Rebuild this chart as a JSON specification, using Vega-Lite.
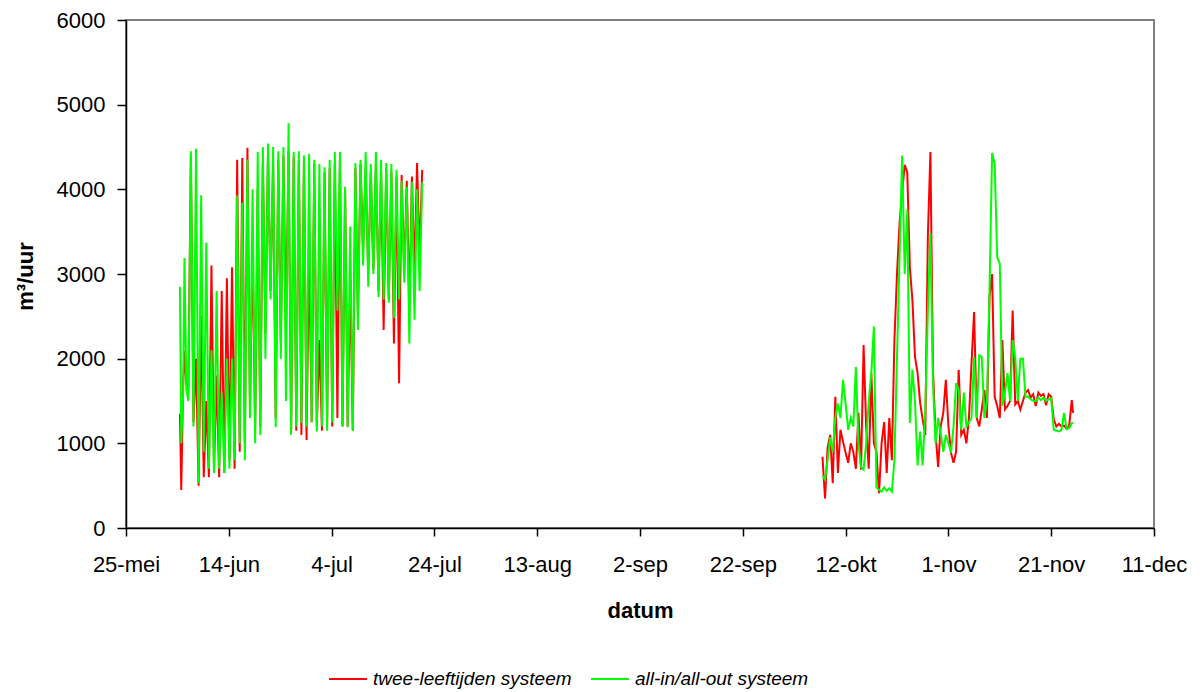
{
  "$schema": "https://vega.github.io/schema/vega-lite/v6.json",
  "width": 1028,
  "height": 508,
  "autosize": {"type": "none"},
  "padding": {"left": 126, "top": 20, "right": 49, "bottom": 164},
  "background": "white",
  "config": {
    "font": "Liberation Sans",
    "view": {"stroke": "#808080", "strokeWidth": 2},
    "axis": {"grid": false, "domainColor": "black", "domainWidth": 1.5, "tickColor": "black", "tickWidth": 1.5, "labelColor": "black", "titleColor": "black", "labelFont": "Liberation Sans", "titleFont": "Liberation Sans"}
  },
  "data": {"values": [
    {"t":"2007-06-04T12:00:00Z","p":1,"twee-leeftijden systeem":1350,"all-in/all-out systeem":2850},
    {"t":"2007-06-04T18:00:00Z","p":1,"twee-leeftijden systeem":450,"all-in/all-out systeem":1000},
    {"t":"2007-06-05T03:00:00Z","p":1,"twee-leeftijden systeem":1700,"all-in/all-out systeem":1600},
    {"t":"2007-06-05T09:00:00Z","p":1,"twee-leeftijden systeem":2100,"all-in/all-out systeem":3190},
    {"t":"2007-06-05T18:00:00Z","p":1,"twee-leeftijden systeem":1700,"all-in/all-out systeem":1630},
    {"t":"2007-06-06T03:00:00Z","p":1,"twee-leeftijden systeem":1600,"all-in/all-out systeem":1500},
    {"t":"2007-06-06T15:00:00Z","p":1,"twee-leeftijden systeem":4400,"all-in/all-out systeem":4450},
    {"t":"2007-06-07T03:00:00Z","p":1,"twee-leeftijden systeem":1250,"all-in/all-out systeem":1200},
    {"t":"2007-06-07T15:00:00Z","p":1,"twee-leeftijden systeem":2000,"all-in/all-out systeem":4480},
    {"t":"2007-06-08T03:00:00Z","p":1,"twee-leeftijden systeem":500,"all-in/all-out systeem":530},
    {"t":"2007-06-08T15:00:00Z","p":1,"twee-leeftijden systeem":2500,"all-in/all-out systeem":3930},
    {"t":"2007-06-09T03:00:00Z","p":1,"twee-leeftijden systeem":600,"all-in/all-out systeem":900},
    {"t":"2007-06-09T15:00:00Z","p":1,"twee-leeftijden systeem":1500,"all-in/all-out systeem":3370},
    {"t":"2007-06-10T03:00:00Z","p":1,"twee-leeftijden systeem":600,"all-in/all-out systeem":700},
    {"t":"2007-06-10T15:00:00Z","p":1,"twee-leeftijden systeem":3100,"all-in/all-out systeem":2100},
    {"t":"2007-06-11T03:00:00Z","p":1,"twee-leeftijden systeem":700,"all-in/all-out systeem":650},
    {"t":"2007-06-11T15:00:00Z","p":1,"twee-leeftijden systeem":1800,"all-in/all-out systeem":2800},
    {"t":"2007-06-12T03:00:00Z","p":1,"twee-leeftijden systeem":600,"all-in/all-out systeem":700},
    {"t":"2007-06-12T15:00:00Z","p":1,"twee-leeftijden systeem":2800,"all-in/all-out systeem":1600},
    {"t":"2007-06-13T03:00:00Z","p":1,"twee-leeftijden systeem":650,"all-in/all-out systeem":650},
    {"t":"2007-06-13T15:00:00Z","p":1,"twee-leeftijden systeem":2950,"all-in/all-out systeem":2000},
    {"t":"2007-06-14T03:00:00Z","p":1,"twee-leeftijden systeem":800,"all-in/all-out systeem":700},
    {"t":"2007-06-14T15:00:00Z","p":1,"twee-leeftijden systeem":3080,"all-in/all-out systeem":2000},
    {"t":"2007-06-15T03:00:00Z","p":1,"twee-leeftijden systeem":700,"all-in/all-out systeem":800},
    {"t":"2007-06-15T15:00:00Z","p":1,"twee-leeftijden systeem":4350,"all-in/all-out systeem":3930},
    {"t":"2007-06-16T03:00:00Z","p":1,"twee-leeftijden systeem":900,"all-in/all-out systeem":1000},
    {"t":"2007-06-16T15:00:00Z","p":1,"twee-leeftijden systeem":4370,"all-in/all-out systeem":3840},
    {"t":"2007-06-17T03:00:00Z","p":1,"twee-leeftijden systeem":1000,"all-in/all-out systeem":800},
    {"t":"2007-06-17T15:00:00Z","p":1,"twee-leeftijden systeem":4490,"all-in/all-out systeem":4350},
    {"t":"2007-06-18T03:00:00Z","p":1,"twee-leeftijden systeem":1400,"all-in/all-out systeem":1300},
    {"t":"2007-06-18T15:00:00Z","p":1,"twee-leeftijden systeem":3370,"all-in/all-out systeem":4000},
    {"t":"2007-06-19T03:00:00Z","p":1,"twee-leeftijden systeem":1160,"all-in/all-out systeem":1000},
    {"t":"2007-06-19T15:00:00Z","p":1,"twee-leeftijden systeem":4000,"all-in/all-out systeem":4440},
    {"t":"2007-06-20T03:00:00Z","p":1,"twee-leeftijden systeem":1200,"all-in/all-out systeem":1100},
    {"t":"2007-06-20T15:00:00Z","p":1,"twee-leeftijden systeem":4300,"all-in/all-out systeem":4500},
    {"t":"2007-06-21T03:00:00Z","p":1,"twee-leeftijden systeem":2300,"all-in/all-out systeem":2000},
    {"t":"2007-06-21T15:00:00Z","p":1,"twee-leeftijden systeem":4400,"all-in/all-out systeem":4540},
    {"t":"2007-06-22T03:00:00Z","p":1,"twee-leeftijden systeem":2800,"all-in/all-out systeem":2700},
    {"t":"2007-06-22T15:00:00Z","p":1,"twee-leeftijden systeem":4300,"all-in/all-out systeem":4500},
    {"t":"2007-06-23T03:00:00Z","p":1,"twee-leeftijden systeem":1300,"all-in/all-out systeem":1190},
    {"t":"2007-06-23T15:00:00Z","p":1,"twee-leeftijden systeem":4350,"all-in/all-out systeem":4450},
    {"t":"2007-06-24T03:00:00Z","p":1,"twee-leeftijden systeem":2200,"all-in/all-out systeem":2000},
    {"t":"2007-06-24T15:00:00Z","p":1,"twee-leeftijden systeem":4400,"all-in/all-out systeem":4500},
    {"t":"2007-06-25T03:00:00Z","p":1,"twee-leeftijden systeem":2370,"all-in/all-out systeem":1500},
    {"t":"2007-06-25T15:00:00Z","p":1,"twee-leeftijden systeem":4450,"all-in/all-out systeem":4780},
    {"t":"2007-06-26T03:00:00Z","p":1,"twee-leeftijden systeem":1120,"all-in/all-out systeem":1100},
    {"t":"2007-06-26T15:00:00Z","p":1,"twee-leeftijden systeem":4380,"all-in/all-out systeem":4440},
    {"t":"2007-06-27T03:00:00Z","p":1,"twee-leeftijden systeem":1150,"all-in/all-out systeem":1200},
    {"t":"2007-06-27T15:00:00Z","p":1,"twee-leeftijden systeem":4350,"all-in/all-out systeem":4450},
    {"t":"2007-06-28T03:00:00Z","p":1,"twee-leeftijden systeem":1100,"all-in/all-out systeem":1240},
    {"t":"2007-06-28T15:00:00Z","p":1,"twee-leeftijden systeem":4380,"all-in/all-out systeem":4400},
    {"t":"2007-06-29T03:00:00Z","p":1,"twee-leeftijden systeem":1040,"all-in/all-out systeem":1200},
    {"t":"2007-06-29T15:00:00Z","p":1,"twee-leeftijden systeem":3250,"all-in/all-out systeem":4420},
    {"t":"2007-06-30T03:00:00Z","p":1,"twee-leeftijden systeem":1250,"all-in/all-out systeem":1250},
    {"t":"2007-06-30T15:00:00Z","p":1,"twee-leeftijden systeem":4300,"all-in/all-out systeem":4350},
    {"t":"2007-07-01T03:00:00Z","p":1,"twee-leeftijden systeem":1200,"all-in/all-out systeem":1140},
    {"t":"2007-07-01T15:00:00Z","p":1,"twee-leeftijden systeem":2220,"all-in/all-out systeem":4300},
    {"t":"2007-07-02T03:00:00Z","p":1,"twee-leeftijden systeem":1150,"all-in/all-out systeem":1200},
    {"t":"2007-07-02T15:00:00Z","p":1,"twee-leeftijden systeem":4200,"all-in/all-out systeem":4260},
    {"t":"2007-07-03T03:00:00Z","p":1,"twee-leeftijden systeem":1200,"all-in/all-out systeem":1150},
    {"t":"2007-07-03T15:00:00Z","p":1,"twee-leeftijden systeem":4250,"all-in/all-out systeem":4350},
    {"t":"2007-07-04T03:00:00Z","p":1,"twee-leeftijden systeem":1200,"all-in/all-out systeem":1250},
    {"t":"2007-07-04T15:00:00Z","p":1,"twee-leeftijden systeem":4300,"all-in/all-out systeem":4440},
    {"t":"2007-07-05T03:00:00Z","p":1,"twee-leeftijden systeem":1300,"all-in/all-out systeem":2570},
    {"t":"2007-07-05T15:00:00Z","p":1,"twee-leeftijden systeem":4350,"all-in/all-out systeem":4440},
    {"t":"2007-07-06T03:00:00Z","p":1,"twee-leeftijden systeem":1200,"all-in/all-out systeem":1200},
    {"t":"2007-07-06T15:00:00Z","p":1,"twee-leeftijden systeem":4000,"all-in/all-out systeem":4030},
    {"t":"2007-07-07T03:00:00Z","p":1,"twee-leeftijden systeem":1200,"all-in/all-out systeem":1190},
    {"t":"2007-07-07T15:00:00Z","p":1,"twee-leeftijden systeem":2930,"all-in/all-out systeem":3560},
    {"t":"2007-07-08T03:00:00Z","p":1,"twee-leeftijden systeem":1150,"all-in/all-out systeem":1150},
    {"t":"2007-07-08T15:00:00Z","p":1,"twee-leeftijden systeem":4250,"all-in/all-out systeem":4310},
    {"t":"2007-07-09T03:00:00Z","p":1,"twee-leeftijden systeem":2500,"all-in/all-out systeem":2340},
    {"t":"2007-07-09T15:00:00Z","p":1,"twee-leeftijden systeem":4300,"all-in/all-out systeem":4350},
    {"t":"2007-07-10T03:00:00Z","p":1,"twee-leeftijden systeem":3280,"all-in/all-out systeem":3100},
    {"t":"2007-07-10T15:00:00Z","p":1,"twee-leeftijden systeem":4250,"all-in/all-out systeem":4440},
    {"t":"2007-07-11T03:00:00Z","p":1,"twee-leeftijden systeem":3000,"all-in/all-out systeem":2850},
    {"t":"2007-07-11T15:00:00Z","p":1,"twee-leeftijden systeem":4200,"all-in/all-out systeem":4300},
    {"t":"2007-07-12T03:00:00Z","p":1,"twee-leeftijden systeem":3050,"all-in/all-out systeem":3000},
    {"t":"2007-07-12T15:00:00Z","p":1,"twee-leeftijden systeem":4300,"all-in/all-out systeem":4440},
    {"t":"2007-07-13T03:00:00Z","p":1,"twee-leeftijden systeem":2800,"all-in/all-out systeem":2730},
    {"t":"2007-07-13T15:00:00Z","p":1,"twee-leeftijden systeem":4200,"all-in/all-out systeem":4350},
    {"t":"2007-07-14T03:00:00Z","p":1,"twee-leeftijden systeem":2340,"all-in/all-out systeem":2700},
    {"t":"2007-07-14T15:00:00Z","p":1,"twee-leeftijden systeem":4250,"all-in/all-out systeem":4310},
    {"t":"2007-07-15T03:00:00Z","p":1,"twee-leeftijden systeem":2700,"all-in/all-out systeem":2660},
    {"t":"2007-07-15T15:00:00Z","p":1,"twee-leeftijden systeem":4200,"all-in/all-out systeem":4300},
    {"t":"2007-07-16T03:00:00Z","p":1,"twee-leeftijden systeem":2180,"all-in/all-out systeem":2480},
    {"t":"2007-07-16T15:00:00Z","p":1,"twee-leeftijden systeem":4150,"all-in/all-out systeem":4230},
    {"t":"2007-07-17T03:00:00Z","p":1,"twee-leeftijden systeem":1710,"all-in/all-out systeem":2700},
    {"t":"2007-07-17T15:00:00Z","p":1,"twee-leeftijden systeem":4170,"all-in/all-out systeem":4100},
    {"t":"2007-07-18T03:00:00Z","p":1,"twee-leeftijden systeem":3000,"all-in/all-out systeem":2900},
    {"t":"2007-07-18T15:00:00Z","p":1,"twee-leeftijden systeem":4100,"all-in/all-out systeem":4030},
    {"t":"2007-07-19T03:00:00Z","p":1,"twee-leeftijden systeem":2600,"all-in/all-out systeem":2180},
    {"t":"2007-07-19T15:00:00Z","p":1,"twee-leeftijden systeem":4150,"all-in/all-out systeem":4090},
    {"t":"2007-07-20T03:00:00Z","p":1,"twee-leeftijden systeem":3000,"all-in/all-out systeem":2460},
    {"t":"2007-07-20T15:00:00Z","p":1,"twee-leeftijden systeem":4310,"all-in/all-out systeem":4000},
    {"t":"2007-07-21T03:00:00Z","p":1,"twee-leeftijden systeem":3200,"all-in/all-out systeem":2800},
    {"t":"2007-07-21T15:00:00Z","p":1,"twee-leeftijden systeem":4230,"all-in/all-out systeem":4080},
    {"t":"2007-10-07T12:00:00Z","p":2,"twee-leeftijden systeem":840,"all-in/all-out systeem":620},
    {"t":"2007-10-08T00:00:00Z","p":2,"twee-leeftijden systeem":350,"all-in/all-out systeem":570},
    {"t":"2007-10-08T12:00:00Z","p":2,"twee-leeftijden systeem":950,"all-in/all-out systeem":800},
    {"t":"2007-10-09T00:00:00Z","p":2,"twee-leeftijden systeem":1100,"all-in/all-out systeem":1070},
    {"t":"2007-10-09T12:00:00Z","p":2,"twee-leeftijden systeem":530,"all-in/all-out systeem":900},
    {"t":"2007-10-10T00:00:00Z","p":2,"twee-leeftijden systeem":1550,"all-in/all-out systeem":1300},
    {"t":"2007-10-10T12:00:00Z","p":2,"twee-leeftijden systeem":650,"all-in/all-out systeem":1470},
    {"t":"2007-10-11T00:00:00Z","p":2,"twee-leeftijden systeem":1160,"all-in/all-out systeem":1300},
    {"t":"2007-10-11T12:00:00Z","p":2,"twee-leeftijden systeem":1020,"all-in/all-out systeem":1750},
    {"t":"2007-10-12T00:00:00Z","p":2,"twee-leeftijden systeem":890,"all-in/all-out systeem":1470},
    {"t":"2007-10-12T12:00:00Z","p":2,"twee-leeftijden systeem":770,"all-in/all-out systeem":1160},
    {"t":"2007-10-13T00:00:00Z","p":2,"twee-leeftijden systeem":1000,"all-in/all-out systeem":1300},
    {"t":"2007-10-13T12:00:00Z","p":2,"twee-leeftijden systeem":900,"all-in/all-out systeem":1200},
    {"t":"2007-10-14T00:00:00Z","p":2,"twee-leeftijden systeem":700,"all-in/all-out systeem":1900},
    {"t":"2007-10-14T12:00:00Z","p":2,"twee-leeftijden systeem":1360,"all-in/all-out systeem":1000},
    {"t":"2007-10-15T00:00:00Z","p":2,"twee-leeftijden systeem":690,"all-in/all-out systeem":720},
    {"t":"2007-10-15T12:00:00Z","p":2,"twee-leeftijden systeem":2160,"all-in/all-out systeem":690},
    {"t":"2007-10-16T00:00:00Z","p":2,"twee-leeftijden systeem":1200,"all-in/all-out systeem":1000},
    {"t":"2007-10-16T12:00:00Z","p":2,"twee-leeftijden systeem":700,"all-in/all-out systeem":1500},
    {"t":"2007-10-17T00:00:00Z","p":2,"twee-leeftijden systeem":1830,"all-in/all-out systeem":1830},
    {"t":"2007-10-17T12:00:00Z","p":2,"twee-leeftijden systeem":1000,"all-in/all-out systeem":2380},
    {"t":"2007-10-18T00:00:00Z","p":2,"twee-leeftijden systeem":900,"all-in/all-out systeem":480},
    {"t":"2007-10-18T12:00:00Z","p":2,"twee-leeftijden systeem":410,"all-in/all-out systeem":450},
    {"t":"2007-10-19T00:00:00Z","p":2,"twee-leeftijden systeem":1000,"all-in/all-out systeem":430},
    {"t":"2007-10-19T12:00:00Z","p":2,"twee-leeftijden systeem":1250,"all-in/all-out systeem":480},
    {"t":"2007-10-20T00:00:00Z","p":2,"twee-leeftijden systeem":650,"all-in/all-out systeem":440},
    {"t":"2007-10-20T12:00:00Z","p":2,"twee-leeftijden systeem":1300,"all-in/all-out systeem":470},
    {"t":"2007-10-21T00:00:00Z","p":2,"twee-leeftijden systeem":800,"all-in/all-out systeem":430},
    {"t":"2007-10-21T12:00:00Z","p":2,"twee-leeftijden systeem":2220,"all-in/all-out systeem":800},
    {"t":"2007-10-22T00:00:00Z","p":2,"twee-leeftijden systeem":3000,"all-in/all-out systeem":2020},
    {"t":"2007-10-22T12:00:00Z","p":2,"twee-leeftijden systeem":3600,"all-in/all-out systeem":3200},
    {"t":"2007-10-23T00:00:00Z","p":2,"twee-leeftijden systeem":3960,"all-in/all-out systeem":4400},
    {"t":"2007-10-23T12:00:00Z","p":2,"twee-leeftijden systeem":4290,"all-in/all-out systeem":3000},
    {"t":"2007-10-24T00:00:00Z","p":2,"twee-leeftijden systeem":4200,"all-in/all-out systeem":3760},
    {"t":"2007-10-24T12:00:00Z","p":2,"twee-leeftijden systeem":3080,"all-in/all-out systeem":1240},
    {"t":"2007-10-25T00:00:00Z","p":2,"twee-leeftijden systeem":2690,"all-in/all-out systeem":1870},
    {"t":"2007-10-25T12:00:00Z","p":2,"twee-leeftijden systeem":2020,"all-in/all-out systeem":1500},
    {"t":"2007-10-26T00:00:00Z","p":2,"twee-leeftijden systeem":1830,"all-in/all-out systeem":740},
    {"t":"2007-10-26T12:00:00Z","p":2,"twee-leeftijden systeem":1480,"all-in/all-out systeem":1140},
    {"t":"2007-10-27T00:00:00Z","p":2,"twee-leeftijden systeem":1280,"all-in/all-out systeem":740},
    {"t":"2007-10-27T12:00:00Z","p":2,"twee-leeftijden systeem":1100,"all-in/all-out systeem":1400},
    {"t":"2007-10-28T00:00:00Z","p":2,"twee-leeftijden systeem":3440,"all-in/all-out systeem":2550},
    {"t":"2007-10-28T12:00:00Z","p":2,"twee-leeftijden systeem":4440,"all-in/all-out systeem":3480},
    {"t":"2007-10-29T00:00:00Z","p":2,"twee-leeftijden systeem":1870,"all-in/all-out systeem":1710},
    {"t":"2007-10-29T12:00:00Z","p":2,"twee-leeftijden systeem":1120,"all-in/all-out systeem":1000},
    {"t":"2007-10-30T00:00:00Z","p":2,"twee-leeftijden systeem":720,"all-in/all-out systeem":1300},
    {"t":"2007-10-30T12:00:00Z","p":2,"twee-leeftijden systeem":1200,"all-in/all-out systeem":1120},
    {"t":"2007-10-31T00:00:00Z","p":2,"twee-leeftijden systeem":1360,"all-in/all-out systeem":900},
    {"t":"2007-10-31T12:00:00Z","p":2,"twee-leeftijden systeem":1750,"all-in/all-out systeem":1100},
    {"t":"2007-11-01T00:00:00Z","p":2,"twee-leeftijden systeem":1210,"all-in/all-out systeem":1000},
    {"t":"2007-11-01T12:00:00Z","p":2,"twee-leeftijden systeem":890,"all-in/all-out systeem":890},
    {"t":"2007-11-02T00:00:00Z","p":2,"twee-leeftijden systeem":770,"all-in/all-out systeem":1200},
    {"t":"2007-11-02T12:00:00Z","p":2,"twee-leeftijden systeem":900,"all-in/all-out systeem":1710},
    {"t":"2007-11-03T00:00:00Z","p":2,"twee-leeftijden systeem":1870,"all-in/all-out systeem":1630},
    {"t":"2007-11-03T12:00:00Z","p":2,"twee-leeftijden systeem":1100,"all-in/all-out systeem":1160},
    {"t":"2007-11-04T00:00:00Z","p":2,"twee-leeftijden systeem":1160,"all-in/all-out systeem":1600},
    {"t":"2007-11-04T12:00:00Z","p":2,"twee-leeftijden systeem":1000,"all-in/all-out systeem":1200},
    {"t":"2007-11-05T00:00:00Z","p":2,"twee-leeftijden systeem":1300,"all-in/all-out systeem":1250},
    {"t":"2007-11-05T12:00:00Z","p":2,"twee-leeftijden systeem":1950,"all-in/all-out systeem":1300},
    {"t":"2007-11-06T00:00:00Z","p":2,"twee-leeftijden systeem":2550,"all-in/all-out systeem":2020},
    {"t":"2007-11-06T12:00:00Z","p":2,"twee-leeftijden systeem":1300,"all-in/all-out systeem":1300},
    {"t":"2007-11-07T00:00:00Z","p":2,"twee-leeftijden systeem":1200,"all-in/all-out systeem":2040},
    {"t":"2007-11-07T12:00:00Z","p":2,"twee-leeftijden systeem":1400,"all-in/all-out systeem":2020},
    {"t":"2007-11-08T00:00:00Z","p":2,"twee-leeftijden systeem":1630,"all-in/all-out systeem":1300},
    {"t":"2007-11-08T12:00:00Z","p":2,"twee-leeftijden systeem":1300,"all-in/all-out systeem":1500},
    {"t":"2007-11-09T00:00:00Z","p":2,"twee-leeftijden systeem":2730,"all-in/all-out systeem":2810},
    {"t":"2007-11-09T12:00:00Z","p":2,"twee-leeftijden systeem":3000,"all-in/all-out systeem":4430},
    {"t":"2007-11-10T00:00:00Z","p":2,"twee-leeftijden systeem":1550,"all-in/all-out systeem":4300},
    {"t":"2007-11-10T12:00:00Z","p":2,"twee-leeftijden systeem":1440,"all-in/all-out systeem":3200},
    {"t":"2007-11-11T00:00:00Z","p":2,"twee-leeftijden systeem":1300,"all-in/all-out systeem":3120},
    {"t":"2007-11-11T12:00:00Z","p":2,"twee-leeftijden systeem":2220,"all-in/all-out systeem":1440},
    {"t":"2007-11-12T00:00:00Z","p":2,"twee-leeftijden systeem":1400,"all-in/all-out systeem":1600},
    {"t":"2007-11-12T12:00:00Z","p":2,"twee-leeftijden systeem":1440,"all-in/all-out systeem":1830},
    {"t":"2007-11-13T00:00:00Z","p":2,"twee-leeftijden systeem":1500,"all-in/all-out systeem":1500},
    {"t":"2007-11-13T12:00:00Z","p":2,"twee-leeftijden systeem":2570,"all-in/all-out systeem":2220},
    {"t":"2007-11-14T00:00:00Z","p":2,"twee-leeftijden systeem":1460,"all-in/all-out systeem":2020},
    {"t":"2007-11-14T12:00:00Z","p":2,"twee-leeftijden systeem":1500,"all-in/all-out systeem":1500},
    {"t":"2007-11-15T00:00:00Z","p":2,"twee-leeftijden systeem":1400,"all-in/all-out systeem":2000},
    {"t":"2007-11-15T12:00:00Z","p":2,"twee-leeftijden systeem":1500,"all-in/all-out systeem":2000},
    {"t":"2007-11-16T00:00:00Z","p":2,"twee-leeftijden systeem":1600,"all-in/all-out systeem":1550},
    {"t":"2007-11-16T12:00:00Z","p":2,"twee-leeftijden systeem":1630,"all-in/all-out systeem":1550},
    {"t":"2007-11-17T00:00:00Z","p":2,"twee-leeftijden systeem":1540,"all-in/all-out systeem":1520},
    {"t":"2007-11-17T12:00:00Z","p":2,"twee-leeftijden systeem":1580,"all-in/all-out systeem":1500},
    {"t":"2007-11-18T00:00:00Z","p":2,"twee-leeftijden systeem":1440,"all-in/all-out systeem":1500},
    {"t":"2007-11-18T12:00:00Z","p":2,"twee-leeftijden systeem":1600,"all-in/all-out systeem":1540},
    {"t":"2007-11-19T00:00:00Z","p":2,"twee-leeftijden systeem":1560,"all-in/all-out systeem":1510},
    {"t":"2007-11-19T12:00:00Z","p":2,"twee-leeftijden systeem":1580,"all-in/all-out systeem":1540},
    {"t":"2007-11-20T00:00:00Z","p":2,"twee-leeftijden systeem":1450,"all-in/all-out systeem":1500},
    {"t":"2007-11-20T12:00:00Z","p":2,"twee-leeftijden systeem":1580,"all-in/all-out systeem":1520},
    {"t":"2007-11-21T00:00:00Z","p":2,"twee-leeftijden systeem":1550,"all-in/all-out systeem":1530},
    {"t":"2007-11-21T12:00:00Z","p":2,"twee-leeftijden systeem":1280,"all-in/all-out systeem":1160},
    {"t":"2007-11-22T00:00:00Z","p":2,"twee-leeftijden systeem":1200,"all-in/all-out systeem":1150},
    {"t":"2007-11-22T12:00:00Z","p":2,"twee-leeftijden systeem":1230,"all-in/all-out systeem":1140},
    {"t":"2007-11-23T00:00:00Z","p":2,"twee-leeftijden systeem":1200,"all-in/all-out systeem":1160},
    {"t":"2007-11-23T12:00:00Z","p":2,"twee-leeftijden systeem":1210,"all-in/all-out systeem":1360},
    {"t":"2007-11-24T00:00:00Z","p":2,"twee-leeftijden systeem":1170,"all-in/all-out systeem":1170},
    {"t":"2007-11-24T12:00:00Z","p":2,"twee-leeftijden systeem":1210,"all-in/all-out systeem":1180},
    {"t":"2007-11-25T00:00:00Z","p":2,"twee-leeftijden systeem":1510,"all-in/all-out systeem":1240},
    {"t":"2007-11-25T06:00:00Z","p":2,"twee-leeftijden systeem":1360,"all-in/all-out systeem":1240}
  ]},
  "transform": [
    {"fold": ["twee-leeftijden systeem", "all-in/all-out systeem"], "as": ["systeem", "m3"]}
  ],
  "mark": {"type": "line", "strokeWidth": 2},
  "encoding": {
    "x": {
      "field": "t", "type": "temporal", "title": "datum",
      "scale": {"type": "utc", "domain": [{"year": 2007, "month": "may", "date": 25, "utc": true}, {"year": 2007, "month": "dec", "date": 11, "utc": true}]},
      "axis": {
        "values": [
          {"year": 2007, "month": "may", "date": 25, "utc": true},
          {"year": 2007, "month": "jun", "date": 14, "utc": true},
          {"year": 2007, "month": "jul", "date": 4, "utc": true},
          {"year": 2007, "month": "jul", "date": 24, "utc": true},
          {"year": 2007, "month": "aug", "date": 13, "utc": true},
          {"year": 2007, "month": "sep", "date": 2, "utc": true},
          {"year": 2007, "month": "sep", "date": 22, "utc": true},
          {"year": 2007, "month": "oct", "date": 12, "utc": true},
          {"year": 2007, "month": "nov", "date": 1, "utc": true},
          {"year": 2007, "month": "nov", "date": 21, "utc": true},
          {"year": 2007, "month": "dec", "date": 11, "utc": true}
        ],
        "labelExpr": "utcdate(datum.value) + '-' + ['jan','feb','mrt','apr','mei','jun','jul','aug','sep','okt','nov','dec'][utcmonth(datum.value)]",
        "labelFontSize": 22, "labelPadding": 18, "tickSize": 8, "labelFlush": false, "labelOverlap": false,
        "titleFontSize": 22, "titleFontWeight": "bold", "titleX": 514, "titleY": 89, "titleBaseline": "alphabetic", "titleAnchor": "middle"
      }
    },
    "y": {
      "field": "m3", "type": "quantitative", "title": "m³/uur",
      "scale": {"domain": [0, 6000]},
      "axis": {
        "values": [0, 1000, 2000, 3000, 4000, 5000, 6000], "format": "d",
        "labelFontSize": 22, "labelPadding": 12, "tickSize": 9,
        "titleFontSize": 22, "titleFontWeight": "bold", "titleX": -94, "titleY": 256, "titleAngle": -90, "titleBaseline": "alphabetic", "titleAlign": "center"
      }
    },
    "color": {
      "field": "systeem", "type": "nominal",
      "scale": {"domain": ["twee-leeftijden systeem", "all-in/all-out systeem"], "range": ["#ff0000", "#00ff00"]},
      "legend": {
        "title": null, "orient": "none", "direction": "horizontal", "legendX": 202, "legendY": 639,
        "symbolType": "stroke", "symbolSize": 1444, "symbolStrokeWidth": 2,
        "labelFontSize": 19, "labelFontStyle": "italic", "labelColor": "black", "labelFont": "Liberation Sans",
        "labelOffset": 5, "columnPadding": 15, "padding": 0, "labelLimit": 400
      }
    },
    "detail": {"field": "p", "type": "nominal"}
  }
}
